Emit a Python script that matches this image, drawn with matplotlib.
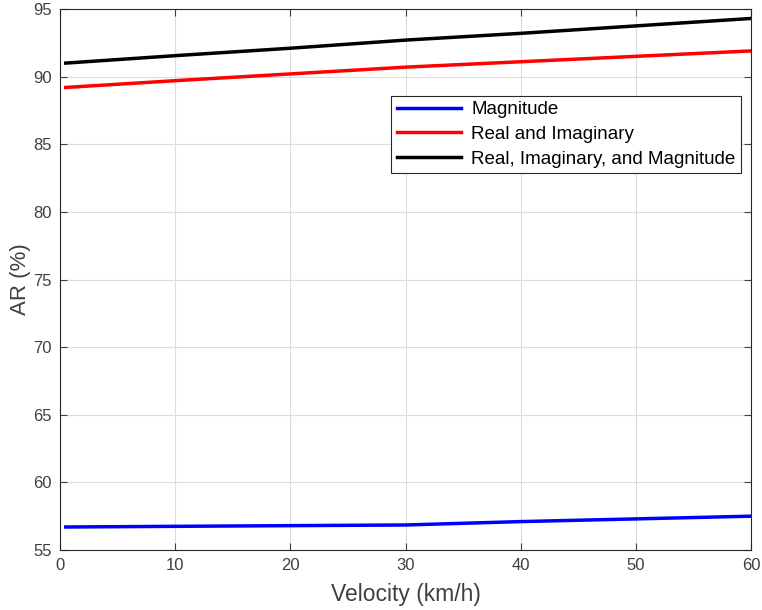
import matplotlib
matplotlib.use("Agg")
import matplotlib.pyplot as plt

velocity = [0.5, 10, 20, 30, 40, 50, 60]
magnitude = [56.7, 56.75, 56.8, 56.85, 57.1, 57.3, 57.5]
real_imag = [89.2, 89.7, 90.2, 90.7, 91.1, 91.5, 91.9]
real_imag_mag = [91.0, 91.55, 92.1, 92.7, 93.2, 93.75, 94.3]
labels = ["Magnitude", "Real and Imaginary", "Real, Imaginary, and Magnitude"]
xticks = [0, 10, 20, 30, 40, 50, 60]
yticks = [55, 60, 65, 70, 75, 80, 85, 90, 95]

plt.rcParams['font.family'] = ['Liberation Sans', 'DejaVu Sans']
fig = plt.figure(figsize=(7.62, 6.10), dpi=100)
L, R, T, B = 60/762, 751/762, 1 - 9/610, 1 - 550/610
ax = fig.add_axes([L, B, R - L, T - B])
ax.plot(velocity, magnitude, color='#0000ff', lw=2.5, label=labels[0])
ax.plot(velocity, real_imag, color='#ff0000', lw=2.5, label=labels[1])
ax.plot(velocity, real_imag_mag, color='#000000', lw=2.5, label=labels[2])
ax.set_xlim(0, 60)
ax.set_ylim(55, 95)
ax.set_xticks(xticks)
ax.set_yticks(yticks)
ax.grid(True, color='#dcdcdc', lw=0.8)
ax.tick_params(direction='in', top=True, right=True, labelsize=12, colors='#404040',
               length=5, pad=6)
for s in ax.spines.values():
    s.set_color('#262626')
    s.set_linewidth(0.8)
ax.set_xlabel('Velocity (km/h)', fontsize=16.5, color='#404040', labelpad=7)
ax.set_ylabel('AR (%)', fontsize=16, color='#404040', labelpad=1.5)
leg = ax.legend(loc='upper right', bbox_to_anchor=(0.9855, 0.84), fontsize=13.5,
                fancybox=False, edgecolor='#262626', handlelength=3.4,
                borderpad=0.3, labelspacing=0.4, handletextpad=0.55, framealpha=1,
                borderaxespad=0)
leg.get_frame().set_linewidth(0.8)
fig.savefig('out.png', dpi=100)
